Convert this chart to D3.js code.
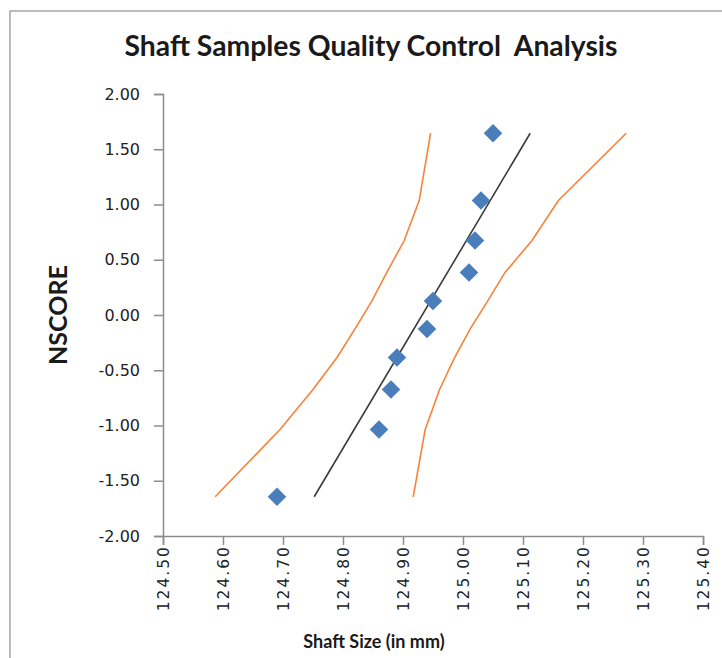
<!DOCTYPE html>
<html>
<head>
<meta charset="utf-8">
<script src="https://cdn.jsdelivr.net/npm/d3@7.9.0/dist/d3.min.js"></script>
<style>
  html, body { margin: 0; padding: 0; background: #fff; }
  svg { display: block; }
</style>
</head>
<body>
<svg id="chart" width="722" height="658"></svg>
<script>
// sample measurements and their normal scores
const shaftSize = [124.69, 124.86, 124.88, 124.89, 124.94, 124.95, 125.01, 125.02, 125.03, 125.05];
const nscore = [-1.645, -1.036, -0.674, -0.385, -0.126, 0.126, 0.385, 0.674, 1.036, 1.645];

// fitted line (ends)
const fitSize = [124.752, 125.112];
const fitScore = [-1.645, 1.645];

// confidence bands, one x per nscore level
const lowerBand = [124.587, 124.695, 124.75, 124.79, 124.82, 124.848, 124.873, 124.902, 124.927, 124.946];
const upperBand = [124.917, 124.937, 124.961, 124.986, 125.012, 125.041, 125.07, 125.115, 125.159, 125.272];

const xTicks = [124.5, 124.6, 124.7, 124.8, 124.9, 125.0, 125.1, 125.2, 125.3, 125.4];
const yTicks = [-2, -1.5, -1, -0.5, 0, 0.5, 1, 1.5, 2];

const svg = d3.select('#chart');
const plot = { left: 163, right: 703, top: 94, bottom: 536 };

const x = d3.scaleLinear().domain([124.5, 125.4]).range([plot.left, plot.right]);
const y = d3.scaleLinear().domain([-2, 2]).range([plot.bottom, plot.top]);

const axisColor = '#8c8c8c';
const tickFont = '"DejaVu Sans", Verdana, sans-serif';
const titleFont = 'Lato, "Open Sans", sans-serif';

// chart frame
svg.append('rect')
  .attr('x', 10).attr('y', 11)
  .attr('width', 730).attr('height', 660)
  .attr('fill', 'none')
  .attr('stroke', '#a6a6a6')
  .attr('stroke-width', 1.5);

// title
svg.append('text')
  .attr('x', 371).attr('y', 56)
  .attr('text-anchor', 'middle')
  .style('font-family', titleFont)
  .style('font-weight', 'bold')
  .style('font-size', '28.3px')
  .attr('fill', '#1a1a1a')
  .attr('xml:space', 'preserve')
  .text('Shaft Samples Quality Control  Analysis');

// y axis
const yAxis = svg.append('g')
  .attr('transform', `translate(${plot.left},0)`)
  .call(d3.axisLeft(y).tickValues(yTicks).tickSize(9).tickPadding(14)
    .tickFormat(d => d.toFixed(2)));
yAxis.selectAll('path, line').attr('stroke', axisColor).attr('stroke-width', 1.5);
yAxis.selectAll('text')
  .style('font-family', tickFont).style('font-size', '16px').attr('fill', '#222');

// x axis
const xAxis = svg.append('g')
  .attr('transform', `translate(0,${plot.bottom})`)
  .call(d3.axisBottom(x).tickValues(xTicks).tickSize(9)
    .tickFormat(d => d.toFixed(2)));
xAxis.selectAll('path, line').attr('stroke', axisColor).attr('stroke-width', 1.5);
xAxis.selectAll('text')
  .attr('transform', 'rotate(-90)')
  .attr('text-anchor', 'end')
  .attr('x', -9).attr('y', 0).attr('dy', '0.35em')
  .style('font-family', tickFont).style('font-size', '15.5px')
  .style('letter-spacing', '2px')
  .attr('fill', '#222');

// axis titles
svg.append('text')
  .attr('transform', 'translate(67,315) rotate(-90)')
  .attr('text-anchor', 'middle')
  .style('font-family', titleFont).style('font-weight', 'bold').style('font-size', '25px')
  .attr('fill', '#1a1a1a')
  .text('NSCORE');

svg.append('text')
  .attr('x', 374).attr('y', 648)
  .attr('text-anchor', 'middle')
  .style('font-family', titleFont).style('font-weight', 'bold').style('font-size', '18px')
  .attr('fill', '#1a1a1a')
  .text('Shaft Size (in mm)');

// bands
const bandLine = d3.line().x(d => x(d[0])).y(d => y(d[1]));
[lowerBand, upperBand].forEach(band => {
  svg.append('path')
    .attr('d', bandLine(band.map((v, i) => [v, nscore[i]])))
    .attr('fill', 'none')
    .attr('stroke', '#f7823a')
    .attr('stroke-width', 1.6);
});

// fitted line
svg.append('path')
  .attr('d', bandLine(fitSize.map((v, i) => [v, fitScore[i]])))
  .attr('fill', 'none')
  .attr('stroke', '#3a3a3a')
  .attr('stroke-width', 1.6);

// points
const diamond = d3.symbol().type(d3.symbolDiamond2).size(220);
svg.append('g').selectAll('path')
  .data(shaftSize)
  .join('path')
  .attr('transform', (d, i) => `translate(${x(d)},${y(nscore[i])})`)
  .attr('d', diamond)
  .attr('fill', '#4a7ebb');
</script>
</body>
</html>
